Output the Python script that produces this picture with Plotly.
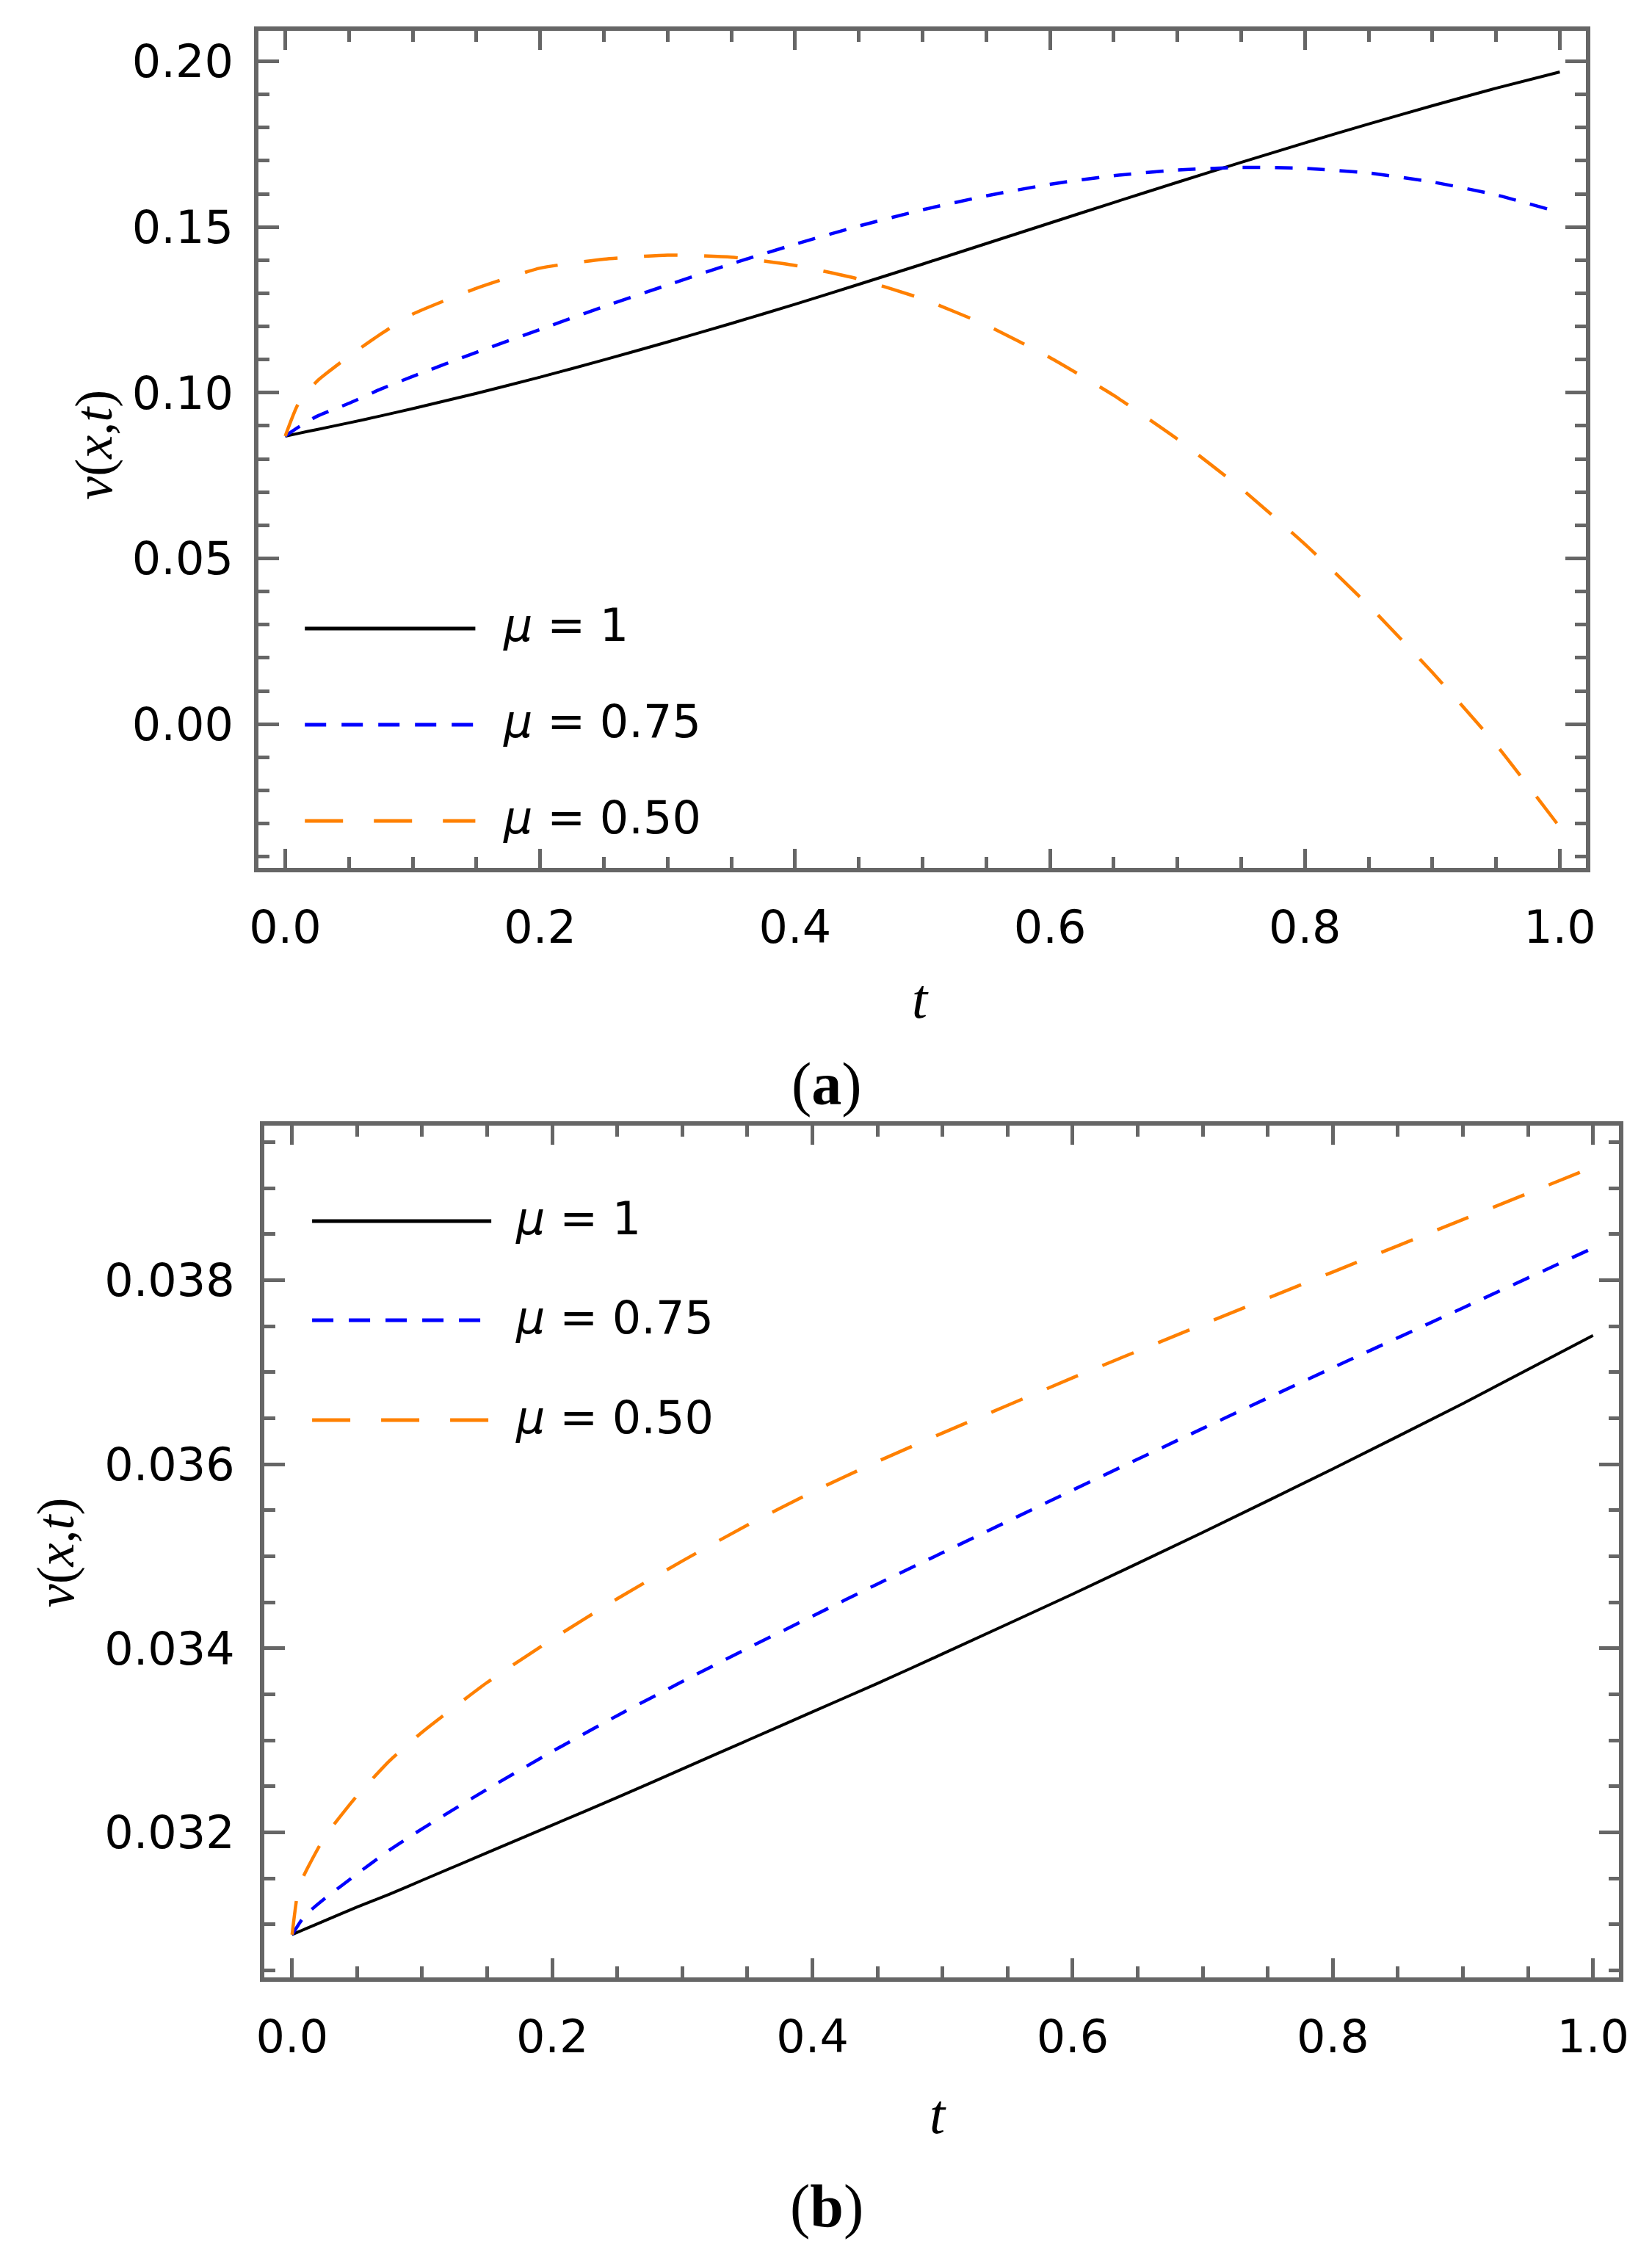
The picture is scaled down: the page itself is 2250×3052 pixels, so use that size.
import plotly.graph_objects as go

# ---- data ----
t_a = [0, 0.01, 0.025, 0.05, 0.075, 0.1, 0.15, 0.2, 0.25, 0.3, 0.35, 0.4,
       0.45, 0.5, 0.55, 0.6, 0.65, 0.7, 0.75, 0.8, 0.85, 0.9, 0.95, 1.0]
v_a_mu100 = [0.0869, 0.0877, 0.0889, 0.0909, 0.0930, 0.0952, 0.0998, 0.1047,
             0.1099, 0.1153, 0.1209, 0.1267, 0.1327, 0.1388, 0.1450, 0.1512,
             0.1574, 0.1635, 0.1695, 0.1754, 0.1811, 0.1866, 0.1919, 0.1968]
v_a_mu075 = [0.0869, 0.0895, 0.0929, 0.0968, 0.1011, 0.1049, 0.1122, 0.1191,
             0.1260, 0.1325, 0.1389, 0.1448, 0.1503, 0.1552, 0.1594, 0.1629,
             0.1655, 0.1672, 0.1680, 0.1677, 0.1663, 0.1636, 0.1597, 0.1544]
v_a_mu050 = [0.0869, 0.0965, 0.1035, 0.1110, 0.1177, 0.1237, 0.1315, 0.1376,
             0.1403, 0.1415, 0.1409, 0.1384, 0.1343, 0.1283, 0.1204, 0.1106,
             0.0992, 0.0860, 0.0711, 0.0543, 0.0358, 0.0156, -0.0062, -0.0311]

t_b = [0, 0.005, 0.01, 0.025, 0.05, 0.075, 0.1, 0.15, 0.2, 0.25, 0.3, 0.35,
       0.4, 0.45, 0.5, 0.6, 0.7, 0.8, 0.9, 1.0]
v_b_mu100 = [0.03089, 0.03092, 0.03095, 0.03104, 0.03119, 0.03133, 0.03148,
             0.03178, 0.03208, 0.03238, 0.03269, 0.03300, 0.03331, 0.03362,
             0.03394, 0.03459, 0.03526, 0.03595, 0.03666, 0.03740]
v_b_mu075 = [0.03089, 0.03100, 0.03110, 0.03128, 0.03155, 0.03181, 0.03204,
             0.03247, 0.03288, 0.03327, 0.03364, 0.03400, 0.03435, 0.03470,
             0.03504, 0.03572, 0.03639, 0.03705, 0.03770, 0.03835]
v_b_mu050 = [0.03089, 0.03140, 0.03156, 0.03195, 0.03240, 0.03278, 0.03309,
             0.03363, 0.03410, 0.03454, 0.03495, 0.03534, 0.03570, 0.03603,
             0.03634, 0.03694, 0.03752, 0.03809, 0.03866, 0.03923]

series_names = ["\u03bc = 1", "\u03bc = 0.75", "\u03bc = 0.50"]
legend_labels = ["<i>\u03bc</i> = 1", "<i>\u03bc</i> = 0.75", "<i>\u03bc</i> = 0.50"]

# ---- styles ----
W, H = 2250, 3052
FRAME = "#666666"
COLORS = ["#000000", "#0000ff", "#ff8000"]
CURVE_DASH = ["solid", "24px,20px", "46px,36px"]
LEGEND_DASH = ["solid", "29px,21px", "52px,42px"]
WIDTHS = [4, 4.5, 4.5]
TICK_FONT = dict(family="DejaVu Sans", size=62, color="black")
SERIF = "Liberation Serif"


def px_x(px):
    return px / W


def px_y(py):
    return 1 - py / H


fig = go.Figure()

panels = [
    (t_a, [v_a_mu100, v_a_mu075, v_a_mu050], "x", "y"),
    (t_b, [v_b_mu100, v_b_mu075, v_b_mu050], "x2", "y2"),
]
for t, vals, xa, ya in panels:
    for i, v in enumerate(vals):
        fig.add_trace(go.Scatter(
            x=t, y=v, mode="lines", name=series_names[i],
            line=dict(color=COLORS[i], width=WIDTHS[i], dash=CURVE_DASH[i],
                      shape="spline", smoothing=0.5),
            xaxis=xa, yaxis=ya, showlegend=False,
        ))


def frame_axis(domain, rng, dtick, minor_dtick, fmt, ticklen, anchor, standoff):
    return dict(
        domain=domain, range=rng, anchor=anchor,
        showline=True, linecolor=FRAME, linewidth=5.5, mirror="allticks",
        ticks="inside", ticklen=ticklen, tickwidth=4.5, tickcolor=FRAME,
        tick0=0, dtick=dtick, tickformat=fmt, tickfont=TICK_FONT,
        ticklabelstandoff=standoff,
        minor=dict(ticks="inside", dtick=minor_dtick, tick0=0, ticklen=15,
                   tickwidth=4.5, tickcolor=FRAME, showgrid=False),
        showgrid=False, zeroline=False,
    )


fig.update_layout(
    width=W, height=H,
    margin=dict(l=0, r=0, t=0, b=0),
    paper_bgcolor="white", plot_bgcolor="white",
    showlegend=False,
    xaxis=frame_axis([px_x(335), px_x(2165)], [-0.021, 1.0205], 0.2, 0.05,
                     ".1f", 26, "y", 22),
    yaxis=frame_axis([px_y(1174), px_y(34)], [-0.0434, 0.2092], 0.05, 0.01,
                     ".2f", 28, "x", 16),
    xaxis2=frame_axis([px_x(343), px_x(2211)], [-0.0214, 1.0202], 0.2, 0.05,
                      ".1f", 26, "y2", 22),
    yaxis2=frame_axis([px_y(2685), px_y(1525)], [0.030425, 0.03968], 0.002,
                      0.0005, ".3f", 28, "x2", 22),
)

# hand-drawn legends (long sample lines as in the reference)
legend_pos = [
    (399, 634, 670, [848, 979, 1110]),
    (409, 656, 687, [1655, 1790, 1926]),
]
for x0, x1, xt, ys in legend_pos:
    for i, yy in enumerate(ys):
        fig.add_shape(type="line", xref="paper", yref="paper",
                      x0=px_x(x0), x1=px_x(x1), y0=px_y(yy), y1=px_y(yy),
                      line=dict(color=COLORS[i], width=5, dash=LEGEND_DASH[i]))
        fig.add_annotation(x=px_x(xt), y=px_y(yy - 4), xref="paper", yref="paper",
                           text=legend_labels[i], showarrow=False,
                           xanchor="left", yanchor="middle",
                           font=TICK_FONT)

# axis titles and panel captions
texts = [
    ("<i>t</i>", 1247, 1352, 0, 76),
    ("<i>\u03bd</i>(<i>x</i>,<i>t</i>)", 108, 598, -90, 72),
    ("(<b>a</b>)", 1118, 1468, 0, 82),
    ("<i>t</i>", 1272, 2871, 0, 76),
    ("<i>\u03bd</i>(<i>x</i>,<i>t</i>)", 56, 2106, -90, 72),
    ("(<b>b</b>)", 1118, 2996, 0, 82),
]
for txt, xx, yy, ang, size in texts:
    fig.add_annotation(x=px_x(xx), y=px_y(yy), xref="paper", yref="paper",
                       text=txt, showarrow=False, textangle=ang,
                       xanchor="center", yanchor="middle",
                       font=dict(family=SERIF, size=size, color="black"))

fig.write_html("out.html")
